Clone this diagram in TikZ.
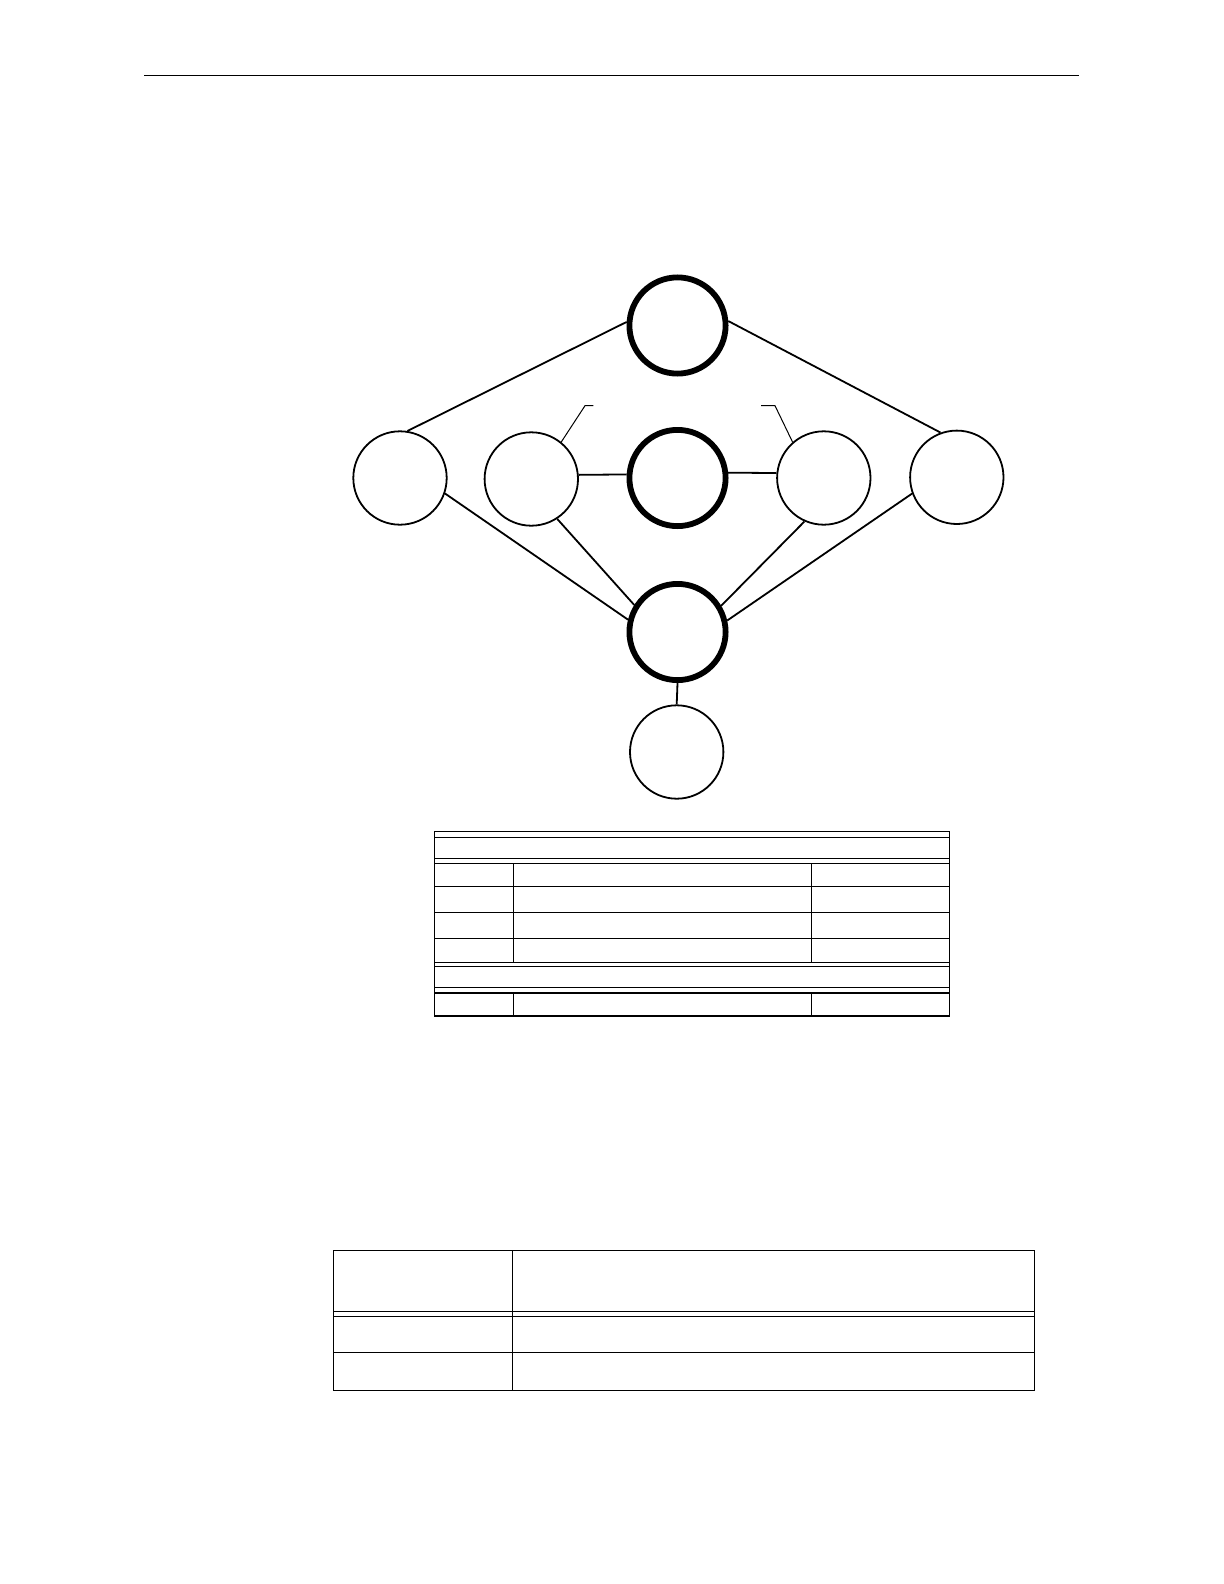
\documentclass[tikz,border=0pt]{standalone}
\usepackage{tikz}
\usetikzlibrary{arrows.meta}

\begin{document}
\begin{tikzpicture}[x=0.5pt,y=-0.5pt]
	\useasboundingbox (0,0) rectangle (1224,1584);
	\draw[line width=0.7pt] (144,75.3) -- (1079.3,75.3);
	\begin{scope}[every node/.style={circle,draw,inner sep=0pt,minimum size=46.7pt,line width=0.9pt},
	              heavy/.style={line width=2.9pt,minimum size=48.1pt}]
		\node[heavy] (1) at (677.5,325.5) {};
		\node (2) at (400,478) {};
		\node (3) at (531.3,479) {};
		\node[heavy] (4) at (677.5,478) {};
		\node (5) at (823.8,478) {};
		\node (6) at (956.8,477.3) {};
		\node[heavy] (7) at (677.5,632) {};
		\node (8) at (676.7,752) {};
	\end{scope}

	\begin{scope}[every edge/.style={draw=black,line width=0.9pt}]
		\path (1.176) edge (2.81);
		\path (1.5) edge (6.110);
		\path (2.-19) edge (7.166);
		\path (3.-57) edge (7.148);
		\path (3.5) edge (4.176);
		\path (4.6) edge (5.174);
		\path (5.246) edge (7.31);
		\path (6.200) edge (7.13);
		\path (7.south) edge (8.north);
	\end{scope}

	\coordinate (a1) at (585,405.7);
	\coordinate (a2) at (593.3,405.7);
	\coordinate (b1) at (775,405.7);
	\coordinate (b2) at (761,405.7);
	\draw[line width=0.5pt] (3.51) -- (a1) -- (a2);
	\draw[line width=0.5pt] (5.131) -- (b1) -- (b2);

	\begin{scope}[line width=0.65pt]
		\draw (434.3,831.7) rectangle (949.3,1016);
		\foreach \y in {837.3,858.7,863.3,886.3,912.3,938.3,962.3,966.3,987.7,993}
			\draw (434.3,\y) -- (949.3,\y);
		\foreach \x in {513.3,811.3} {
			\draw (\x,863.3) -- (\x,962.3);
			\draw (\x,993) -- (\x,1016);
		}
		\draw (333.3,1250.5) rectangle (1034.3,1390.3);
		\foreach \y in {1311.7,1316.3,1352.3}
			\draw (333.3,\y) -- (1034.3,\y);
		\draw (512.7,1250.5) -- (512.7,1390.3);
	\end{scope}
\end{tikzpicture}
\end{document}
